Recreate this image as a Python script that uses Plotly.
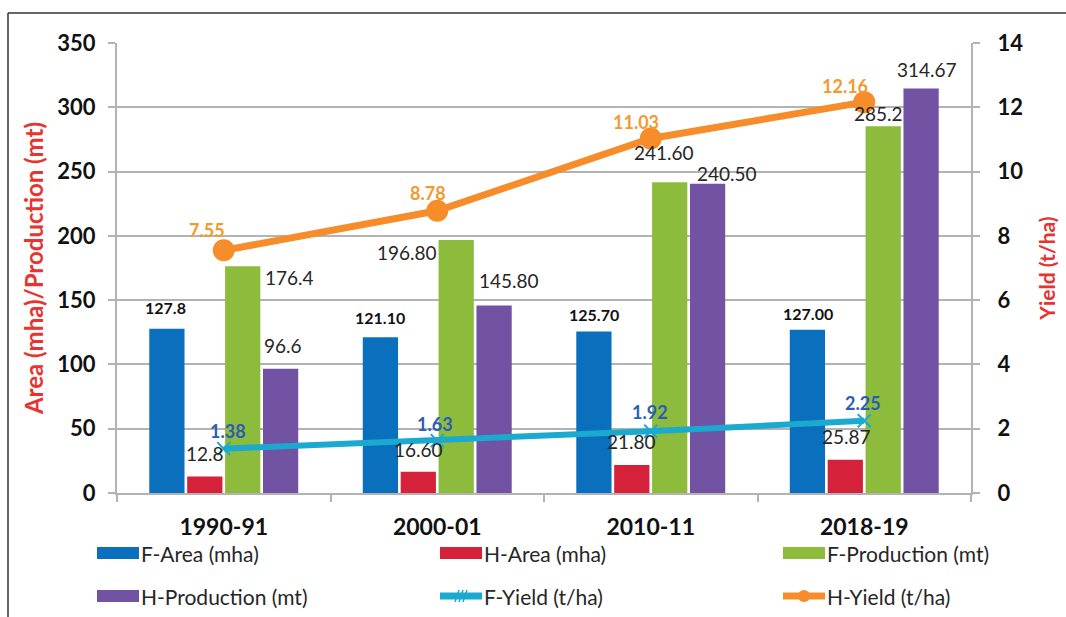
import plotly.graph_objects as go

# ---------------- data ----------------
categories = ["1990-91", "2000-01", "2010-11", "2018-19"]
f_area = [127.8, 121.10, 125.70, 127.00]
h_area = [12.8, 16.60, 21.80, 25.87]
f_prod = [176.4, 196.80, 241.60, 285.2]
h_prod = [96.6, 145.80, 240.50, 314.67]
f_yield = [1.38, 1.63, 1.92, 2.25]
h_yield = [7.55, 8.78, 11.03, 12.16]

f_area_lbl = ["127.8", "121.10", "125.70", "127.00"]
h_area_lbl = ["12.8", "16.60", "21.80", "25.87"]
f_prod_lbl = ["176.4", "196.80", "241.60", "285.2"]
h_prod_lbl = ["96.6", "145.80", "240.50", "314.67"]
f_yield_lbl = ["1.38", "1.63", "1.92", "2.25"]
h_yield_lbl = ["7.55", "8.78", "11.03", "12.16"]

left_ticks = [0, 50, 100, 150, 200, 250, 300, 350]
right_ticks = [0, 2, 4, 6, 8, 10, 12, 14]

# ---------------- style ----------------
W, H = 1066, 617
L, R, T, B = 117, 95, 43, 124
PW, PH = W - L - R, H - T - B

C_FAREA = "#0A70BE"
C_HAREA = "#D5223A"
C_FPROD = "#8DBB3C"
C_HPROD = "#7152A3"
C_FYIELD = "#1AA9CF"
C_HYIELD = "#F68D2A"
C_FYTXT = "#2A5DB5"
C_HYTXT = "#F39A2E"
C_TITLE = "#E8332F"
C_GRID = "#B3B3B3"
C_TXT = "#262626"
FONT = "Lato"


def px(x):
    return (x - L) / PW


def py(y):
    return (H - B - y) / PH


fig = go.Figure()

for name, vals, col in [
    ("F-Area (mha)", f_area, C_FAREA),
    ("H-Area (mha)", h_area, C_HAREA),
    ("F-Production (mt)", f_prod, C_FPROD),
    ("H-Production (mt)", h_prod, C_HPROD),
]:
    fig.add_trace(go.Bar(x=categories, y=vals, name=name, marker_color=col,
                         marker_line_width=0, showlegend=False))

fig.add_trace(go.Scatter(x=categories, y=f_yield, yaxis="y2", name="F-Yield (t/ha)",
                         mode="lines+markers", line=dict(color=C_FYIELD, width=6),
                         marker=dict(symbol="x-thin", size=13, line=dict(color=C_FYIELD, width=2)),
                         showlegend=False))
fig.add_trace(go.Scatter(x=categories, y=h_yield, yaxis="y2", name="H-Yield (t/ha)",
                         mode="lines+markers", line=dict(color=C_HYIELD, width=7),
                         marker=dict(symbol="circle", size=22, color=C_HYIELD),
                         showlegend=False))

annotations = []


def add_labels(vals, labels, dx, dy, yref, color, size, bold):
    for i, (v, t) in enumerate(zip(vals, labels)):
        annotations.append(dict(
            x=categories[i], y=v, xref="x", yref=yref,
            text=f"<b>{t}</b>" if bold else t, showarrow=False,
            xshift=dx[i], yshift=dy[i], xanchor="center", yanchor="middle",
            font=dict(family=FONT, size=size, color=color)))


add_labels(f_area, f_area_lbl, [-58, -57, -57, -56], [21, 20, 17, 16], "y", "#111111", 16, True)
add_labels(h_area, h_area_lbl, [-19, -19, -19, -18], [23, 22, 23, 23], "y", C_TXT, 19, False)
add_labels(f_prod, f_prod_lbl, [66, -30, 13, 14], [-11, -13, 30, 13], "y", C_TXT, 19, False)
add_labels(h_prod, h_prod_lbl, [59, 72, 76, 63], [23, 25, 10, 19], "y", C_TXT, 19, False)
add_labels(f_yield, f_yield_lbl, [4, -2, -1, -1], [18, 17, 19, 18], "y2", C_FYTXT, 18, True)
add_labels(h_yield, h_yield_lbl, [-17, -9, -15, -19], [20, 18, 16, 16], "y2", C_HYTXT, 18, True)

# ---------------- manual legend ----------------
shapes = []
legend_items = [
    ("F-Area (mha)", "bar", C_FAREA, 97, 553),
    ("H-Area (mha)", "bar", C_HAREA, 440, 553),
    ("F-Production (mt)", "bar", C_FPROD, 783, 553),
    ("H-Production (mt)", "bar", C_HPROD, 97, 596),
    ("F-Yield (t/ha)", "fy", C_FYIELD, 440, 596),
    ("H-Yield (t/ha)", "hy", C_HYIELD, 783, 596),
]
for text, kind, col, x0, yc in legend_items:
    x1 = x0 + 42
    if kind == "bar":
        shapes.append(dict(type="rect", xref="paper", yref="paper",
                           x0=px(x0), x1=px(x1), y0=py(yc + 6), y1=py(yc - 6),
                           fillcolor=col, line_width=0, layer="above"))
    else:
        shapes.append(dict(type="line", xref="paper", yref="paper",
                           x0=px(x0), x1=px(x1), y0=py(yc), y1=py(yc),
                           line=dict(color=col, width=7), layer="above"))
        xm = (x0 + x1) / 2
        if kind == "hy":
            shapes.append(dict(type="circle", xref="paper", yref="paper",
                               x0=px(xm - 6), x1=px(xm + 6), y0=py(yc + 6), y1=py(yc - 6),
                               fillcolor=col, line_width=0, layer="above"))
        else:
            for d in (-4, 0, 4):
                shapes.append(dict(type="line", xref="paper", yref="paper",
                                   x0=px(xm + d - 2), x1=px(xm + d + 2),
                                   y0=py(yc + 6), y1=py(yc - 6),
                                   line=dict(color=col, width=1.5), layer="above"))
    annotations.append(dict(x=px(x1 + 0), y=py(yc), xref="paper", yref="paper",
                            text=text, showarrow=False, xanchor="left", yanchor="middle",
                            font=dict(family=FONT, size=21, color=C_TXT)))

# frame (top & left edges)
shapes.append(dict(type="line", xref="paper", yref="paper", x0=px(8), x1=px(W + 5),
                   y0=py(13), y1=py(13), line=dict(color="#333333", width=1.5)))
shapes.append(dict(type="line", xref="paper", yref="paper", x0=px(8), x1=px(8),
                   y0=py(13), y1=py(H + 5), line=dict(color="#333333", width=1.5)))

fig.update_layout(
    width=W, height=H,
    margin=dict(l=L, r=R, t=T, b=B, autoexpand=False),
    paper_bgcolor="white", plot_bgcolor="white",
    barmode="group", bargap=0.29, bargroupgap=0.07,
    showlegend=False,
    font=dict(family=FONT, color=C_TXT),
    xaxis=dict(type="category", categoryorder="array", categoryarray=categories,
               showline=True, linecolor=C_GRID, linewidth=2,
               ticks="outside", tickson="boundaries", ticklen=7, tickcolor=C_GRID, tickwidth=1.5,
               ticklabelstandoff=12,
               tickfont=dict(family=FONT, size=23, color="#111111", weight="bold"),
               showgrid=False),
    yaxis=dict(range=[0, 350], tickvals=left_ticks, showgrid=True, gridcolor=C_GRID, gridwidth=2,
               showline=True, linecolor=C_GRID, linewidth=2,
               ticks="outside", ticklen=7, tickcolor=C_GRID, tickwidth=2,
               ticklabelstandoff=8,
               tickfont=dict(family=FONT, size=22, color="#111111", weight="bold"),
               title=dict(text="Area (mha)/Production (mt)", standoff=7,
                          font=dict(family=FONT, size=24, color=C_TITLE, weight="bold")),
               zeroline=False),
    yaxis2=dict(range=[0, 14], tickvals=right_ticks, overlaying="y", side="right",
                showgrid=False, showline=True, linecolor=C_GRID, linewidth=2,
                ticks="outside", ticklen=7, tickcolor=C_GRID, tickwidth=2,
                ticklabelstandoff=13,
                tickfont=dict(family=FONT, size=22, color="#111111", weight="bold"),
                title=dict(text="Yield (t/ha)", standoff=18,
                           font=dict(family=FONT, size=21, color=C_TITLE, weight="bold")),
                zeroline=False),
    annotations=annotations,
    shapes=shapes,
)

fig.write_html("out.html", config={"displayModeBar": False},
               post_script="document.body.style.margin='0px';document.body.style.overflow='hidden';")
